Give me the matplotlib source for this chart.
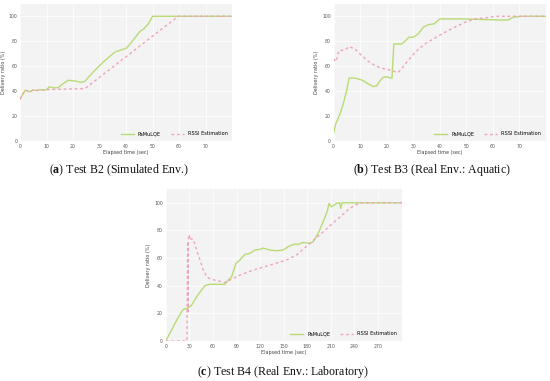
import numpy as np
import matplotlib.pyplot as plt

plt.rcParams['mathtext.fontset'] = 'custom'
plt.rcParams['mathtext.bf'] = 'Liberation Serif:bold'
plt.rcParams['mathtext.rm'] = 'Liberation Serif'

# ---- data ----
# (a) Test B2
a_green_t = [0, 1.9, 2.8, 3.8, 5, 6.3, 7.5, 9.2, 10, 11, 12.6, 14.4, 16.3, 18.2, 20.7, 23.2,
             24.5, 27.6, 31.4, 35.8, 40.2, 42.1, 45.2, 46.7, 48.4, 50, 80]
a_green_v = [33.5, 40.7, 40, 39.4, 41, 40.4, 41.2, 40.7, 41.2, 43.4, 42.6, 42.8, 46, 48.7, 48.1, 47,
             47.9, 55.3, 63.3, 71.3, 74.5, 79.3, 87.8, 89.9, 93.9, 100, 100]
a_red_t = [0, 1.9, 2.8, 3.8, 5, 6.3, 7.5, 9.2, 10, 24.5, 59.7, 80]
a_red_v = [33.5, 40.7, 40, 39.4, 41, 40.4, 41.2, 40.7, 41.2, 42, 100, 100]

# (b) Test B3
b_green_t = [0, 0.75, 2.4, 3.6, 4.9, 5.8, 8, 10.6, 13.1, 15, 16.2, 17.5, 18.7, 20, 21.2, 22,
             22.7, 25.6, 26.9, 28.4, 30, 31.9, 33.8, 35.7, 37.9, 40.1, 48.2, 63.3, 65.8, 67.7, 70.9, 80]
b_green_v = [6.4, 13.6, 21.7, 29.7, 40.4, 50.5, 50.5, 48.9, 45.7, 43.6, 44.1, 48.4, 51, 51.6, 50.5, 50.5,
             77.8, 77.8, 80, 83.2, 83.2, 85.8, 91.2, 93.3, 93.9, 97.9, 97.9, 97, 97, 99.2, 100, 100]
b_red_t = [0, 0.9, 2, 4.3, 5.8, 8, 10.6, 13.1, 15.6, 18.1, 20.6, 22.5, 24.4, 25.6, 27.5, 30.7,
           34.4, 38.2, 42, 45.7, 49.5, 53.3, 57, 60.8, 80]
b_red_v = [65.8, 63.6, 72.5, 73, 75.7, 73.8, 68.4, 63.9, 60.4, 58.3, 57.2, 55.9, 55.1, 57.8, 63.1, 71.1,
           77.8, 82.6, 87.2, 91.2, 95.2, 97.9, 98.7, 100, 100]

# (c) Test B4
c_green_t = [0, 7.6, 14, 19, 22.4, 27.5, 33, 39.3, 45.7, 49.9, 55.3, 64.7, 75.3, 79.5, 83.8, 89.3,
             94.4, 100.7, 107, 113.4, 119.7, 124, 132.4, 140.9, 149.4, 157, 164.2, 168.4, 174.8,
             183.2, 187.5, 193.8, 200.2, 205.2, 207.7, 210.7, 217, 221.3, 222.5, 224.2, 300]
c_green_v = [0, 8, 15.2, 20, 22.9, 23.6, 26, 32, 36.9, 40, 41, 41, 41, 44.1, 46.5, 56.1,
             58.6, 62.7, 63.4, 65.8, 66.3, 67.2, 65.8, 65.3, 65.8, 68.7, 70.1, 69.9, 71.3,
             70.6, 71.8, 77.8, 86.3, 93.5, 99.5, 97.1, 99.5, 100, 95.9, 100, 100]
c_red_t = [0, 27, 28, 28.5, 29, 30, 31, 32, 35.1, 39.3, 43.6, 47.8, 52.9, 58.4, 66.9, 75.3, 81.7,
           94.4, 111.3, 132.4, 153.6, 166.3, 183.2, 200.2, 217, 234, 246.7, 300]
c_red_v = [0, 0, 72, 20, 75, 77, 73, 74, 73.5, 65.8, 58.6, 51.3, 46, 44.6, 43.4, 42.4, 44.1,
           47.7, 51.3, 54.9, 58.6, 62.2, 70.6, 79, 87.5, 95.9, 100, 100]

green = '#b9db74'
pink = '#f0a3b8'

fig = plt.figure(figsize=(5.5, 3.81), dpi=100)


def panel(rect, gt, gv, rt, rv, xmax, xstep):
    ax = fig.add_axes(rect)
    ax.set_facecolor('#f3f3f3')
    ax.plot(gt, gv, color=green, lw=1.0, label='PaMuLQE')
    ax.plot(rt, rv, color=pink, lw=1.0, ls=(0, (2, 2)), label='RSSI Estimation')
    ax.set_xlim(0, xmax)
    ax.set_ylim(0, 110)
    ax.set_xticks(np.arange(0, xmax, xstep))
    ax.set_yticks(np.arange(0, 101, 20))
    ax.grid(color='white', lw=0.5)
    for s in ax.spines.values():
        s.set_visible(False)
    ax.tick_params(length=0, labelsize=3.3, colors='#555555', pad=2)
    ax.set_xlabel('Elapsed time (sec)', fontsize=3.5, color='#444444', labelpad=1)
    ax.set_ylabel('Delivery ratio (%)', fontsize=3.5, color='#444444', labelpad=2)
    ax.legend(loc='lower right', ncol=2, frameon=False, fontsize=3.6, handlelength=2.6,
              columnspacing=2.0, handletextpad=0.8, borderaxespad=0.5)
    return ax


panel([0.0364, 0.63, 0.3855, 0.36], a_green_t, a_green_v, a_red_t, a_red_v, 80, 10)
panel([0.6067, 0.63, 0.3855, 0.36], b_green_t, b_green_v, b_red_t, b_red_v, 80, 10)
panel([0.3013, 0.105, 0.429, 0.399], c_green_t, c_green_v, c_red_t, c_red_v, 300, 30)

cap = dict(fontsize=8.6, family='Liberation Serif', ha='center', va='center', color='#111111')
fig.text(0.2155, 1 - 170.5 / 381, r'($\mathbf{a}$) Test B2 (Simulated Env.)', **cap)
fig.text(0.785, 1 - 170.5 / 381, r'($\mathbf{b}$) Test B3 (Real Env.: Aquatic)', **cap)
fig.text(0.515, 1 - 372 / 381, r'($\mathbf{c}$) Test B4 (Real Env.: Laboratory)', **cap)

fig.savefig('out.png', dpi=100)
